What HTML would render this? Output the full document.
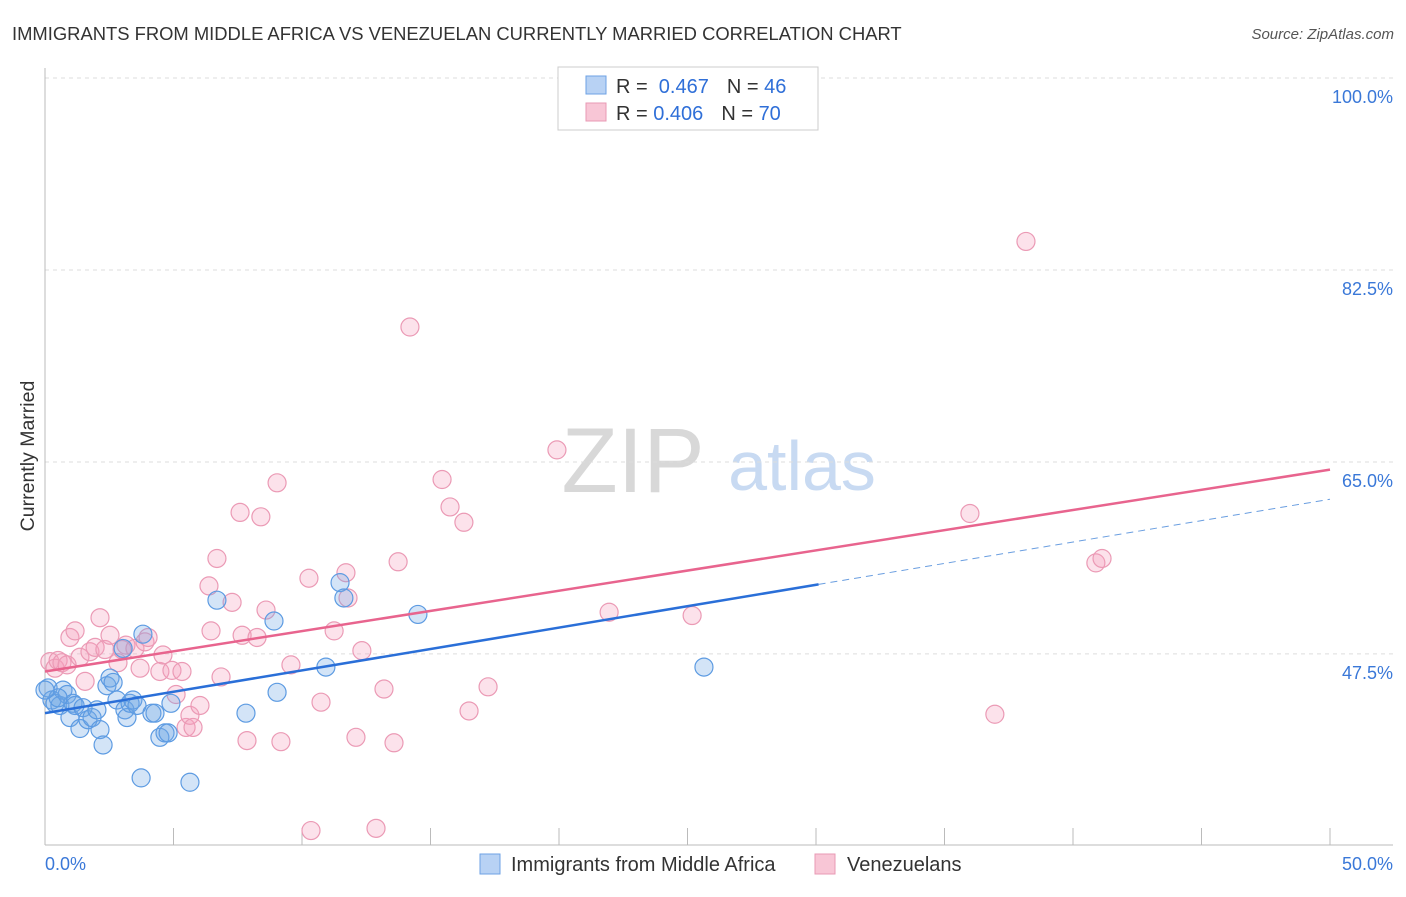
<!DOCTYPE html>
<html><head><meta charset="utf-8"><style>
body{margin:0;background:#fff;font-family:"Liberation Sans",sans-serif}
svg text{font-family:"Liberation Sans",sans-serif}
</style></head><body>
<svg id="chart" width="1406" height="892">
<text x="12" y="40" font-size="18.4" fill="#333">IMMIGRANTS FROM MIDDLE AFRICA VS VENEZUELAN CURRENTLY MARRIED CORRELATION CHART</text>
<text x="1394" y="39" font-size="15" fill="#555" font-style="italic" text-anchor="end">Source: ZipAtlas.com</text>
<text x="0" y="0" transform="translate(34,456) rotate(-90)" font-size="19.5" fill="#333" text-anchor="middle">Currently Married</text>
<g>
<text x="633" y="492" font-size="92" font-family="Liberation Serif" fill="#d8d8d8" text-anchor="middle">ZIP</text>
<text x="802" y="490" font-size="70" fill="#c8daf2" text-anchor="middle">atlas</text>
</g>
<g id="grid"></g><g id="axes"></g><g id="pts"></g><g id="lines"></g>
<g>
<rect x="558" y="67" width="260" height="63" fill="#fff" stroke="#ccc"/>
<rect x="586" y="76" width="20" height="18" fill="#b8d2f4" stroke="#6ea2e4"/>
<rect x="586" y="103" width="20" height="18" fill="#f8c6d6" stroke="#e89ab4"/>
<text x="616" y="93" font-size="20" fill="#333">R = <tspan fill="#2f6fd8">&#160;0.467</tspan><tspan dx="18" fill="#333">N = </tspan><tspan fill="#2f6fd8">46</tspan></text>
<text x="616" y="120" font-size="20" fill="#333">R = <tspan fill="#2f6fd8">0.406</tspan><tspan dx="18" fill="#333">N = </tspan><tspan fill="#2f6fd8">70</tspan></text>
</g>
<g>
<rect x="480" y="854" width="20" height="20" fill="#b8d2f4" stroke="#6ea2e4"/>
<text x="511" y="871" font-size="20" fill="#333">Immigrants from Middle Africa</text>
<rect x="815" y="854" width="20" height="20" fill="#f8c6d6" stroke="#e89ab4"/>
<text x="847" y="871" font-size="20" fill="#333">Venezuelans</text>
</g>
</svg>
<script>
const yTicks=[100,82.5,65,47.5];
const yTickLabels=["100.0%","82.5%","65.0%","47.5%"];
const xTickLabels=["0.0%","50.0%"];
const blueX=[0.12,0.27,0.39,0.58,0.70,0.86,0.97,1.09,1.17,1.36,1.48,1.67,1.83,2.02,2.14,2.26,2.41,2.53,2.65,2.80,3.04,3.11,3.19,3.31,3.42,3.58,3.74,3.81,4.16,4.28,4.47,4.67,4.79,4.90,5.64,6.69,7.82,8.91,9.03,10.93,11.48,11.63,14.51,25.64,0.51,0];
const blueY=[44.4,43.3,43.0,42.8,44.2,43.8,41.7,43.0,42.8,40.7,42.6,41.5,41.7,42.4,40.6,39.2,44.6,45.3,44.9,43.3,48.0,42.4,41.7,43.0,43.3,42.8,36.2,49.3,42.1,42.1,39.9,40.3,40.3,43.0,35.8,52.4,42.1,50.5,44.0,46.3,54.0,52.6,51.1,46.3,43.5,44.2];
const pinkX=[0.19,0.39,0.51,0.66,0.86,0.97,1.17,1.36,1.56,1.75,1.95,2.14,2.33,2.53,2.84,3.00,3.15,3.50,3.70,3.89,4.01,4.47,4.59,4.94,5.10,5.33,5.49,5.64,5.76,6.03,6.38,6.46,6.69,6.85,7.28,7.59,7.67,7.86,8.25,8.40,8.60,9.03,9.18,9.57,10.27,10.35,10.74,11.25,11.71,11.79,12.10,12.33,12.88,13.19,13.58,13.74,14.20,15.45,15.76,16.30,16.50,17.24,19.92,21.95,25.18,35.99,36.96,38.17,40.89,41.13];
const pinkY=[46.8,46.2,46.9,46.7,46.5,49.0,49.6,47.2,45.0,47.7,48.1,50.8,47.9,49.2,46.7,47.9,48.3,48.0,46.2,48.6,49.0,45.9,47.4,46.0,43.8,45.9,40.8,41.9,40.8,42.8,53.7,49.6,56.2,45.4,52.2,60.4,49.2,39.6,49.0,60.0,51.5,63.1,39.5,46.5,54.4,31.4,43.1,49.6,54.9,52.6,39.9,47.8,31.6,44.3,39.4,55.9,77.3,63.4,60.9,59.5,42.3,44.5,66.1,51.3,51.0,60.3,42.0,85.1,55.8,56.2];
const blueTrend=[42.1,61.6,30.1];
const pinkTrend=[45.9,64.3];
const NS="http://www.w3.org/2000/svg";
const xS=v=>45+v/50*1285;
const yS=v=>78+(100-v)*10.97;
function mk(tag,attrs,parent){const e=document.createElementNS(NS,tag);for(const k in attrs)e.setAttribute(k,attrs[k]);document.getElementById(parent).appendChild(e);return e;}
yTicks.forEach((t,i)=>{
 const g=mk('line',{x1:45,x2:1393,y1:yS(t),y2:yS(t),stroke:'#ddd','stroke-dasharray':'4,4'},'grid');
 
 
 const l=mk('text',{x:1393,y:yS(t)+25,'text-anchor':'end','font-size':18,fill:'#3a78d8'},'grid');
 l.textContent=yTickLabels[i];
 
 
});
mk('line',{x1:45,x2:45,y1:68,y2:845,stroke:'#bbb'},'axes');
mk('line',{x1:45,x2:1393,y1:845,y2:845,stroke:'#bbb'},'axes');
for(let i=0;i<=10;i++){const t=mk('line',{x1:xS(i*5),x2:xS(i*5),y1:828,y2:845,stroke:'#bbb'},'axes');
 
 }
[[45,'start'],[1393,'end']].forEach((a,i)=>{const t=mk('text',{x:a[0],y:870,'text-anchor':a[1],'font-size':18,fill:'#3a78d8'},'axes');t.textContent=xTickLabels[i];
 
 });
pinkX.forEach((x,i)=>{const c=mk('circle',{cx:xS(x),cy:yS(pinkY[i]),r:9,fill:'rgba(244,160,188,0.3)',stroke:'#eb9ab5','stroke-width':1.2},'pts');
 
 });
blueX.forEach((x,i)=>{const c=mk('circle',{cx:xS(x),cy:yS(blueY[i]),r:9,fill:'rgba(110,165,230,0.3)',stroke:'#5d9be2','stroke-width':1.2},'pts');
 
 });
const by=x=>blueTrend[0]+(blueTrend[1]-blueTrend[0])*x/50;
const py=x=>pinkTrend[0]+(pinkTrend[1]-pinkTrend[0])*x/50;
const pl=mk('line',{x1:xS(0),y1:yS(py(0)),x2:xS(50),y2:yS(py(50)),stroke:'#e8648e','stroke-width':2.5},'lines');


const bl=mk('line',{x1:xS(0),y1:yS(by(0)),x2:xS(blueTrend[2]),y2:yS(by(blueTrend[2])),stroke:'#2a6fd8','stroke-width':2.5},'lines');


const bd=mk('line',{x1:xS(blueTrend[2]),y1:yS(by(blueTrend[2])),x2:xS(50),y2:yS(by(50)),stroke:'#6a9ee0','stroke-width':1,'stroke-dasharray':'7,5'},'lines');


</script>
</body></html>
